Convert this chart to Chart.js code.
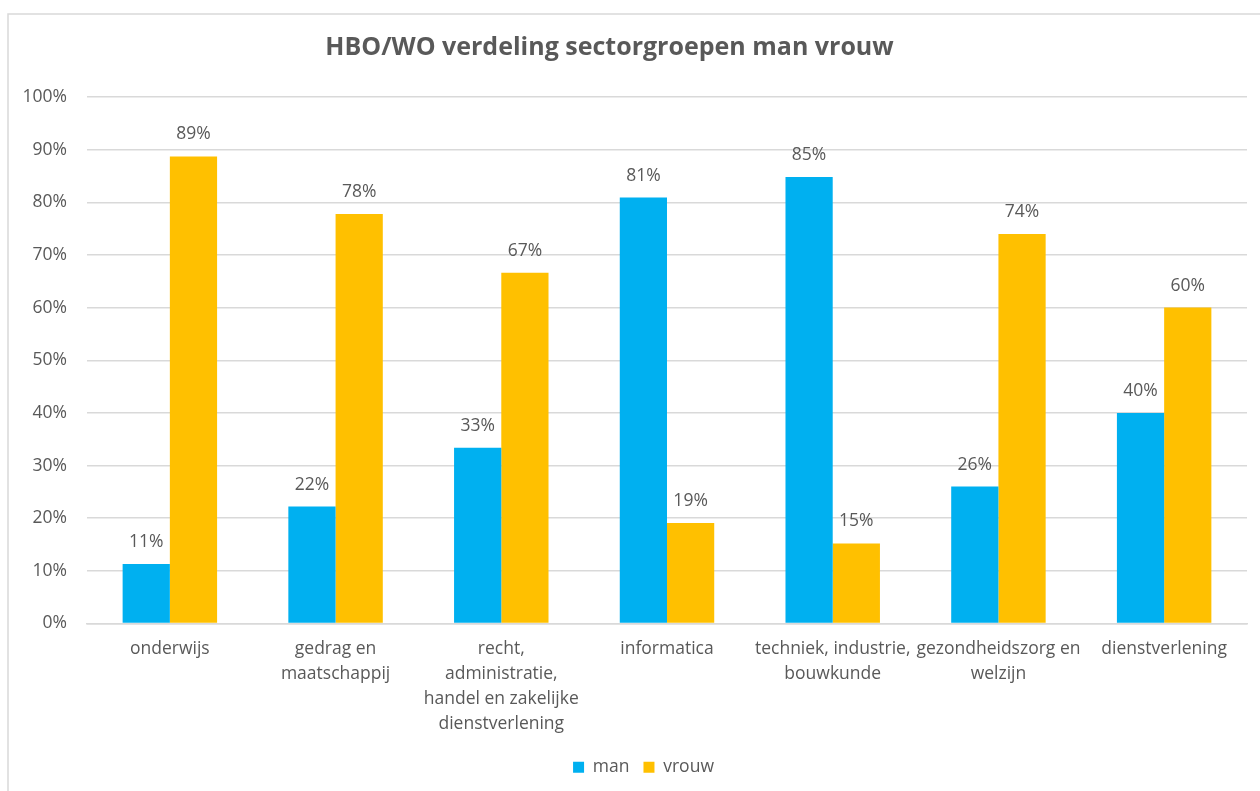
<!DOCTYPE html>
<html>
<head>
<meta charset="utf-8">
<script src="https://cdn.jsdelivr.net/npm/chart.js@4.4.1/dist/chart.umd.min.js"></script>
<style>
html,body{margin:0;padding:0;background:#fff;overflow:hidden;}
#wrap{position:absolute;left:0;top:0;width:1260px;height:791px;}
</style>
</head>
<body>
<div id="wrap"><canvas id="c" width="1260" height="791"></canvas></div>
<script>
const categories = [
  ["onderwijs"],
  ["gedrag en", "maatschappij"],
  ["recht,", "administratie,", "handel en zakelijke", "dienstverlening"],
  ["informatica"],
  ["techniek, industrie,", "bouwkunde"],
  ["gezondheidszorg en", "welzijn"],
  ["dienstverlening"]
];
const manValues   = [11.3, 22.2, 33.4, 80.9, 84.8, 26.0, 40.0];
const vrouwValues = [88.7, 77.8, 66.6, 19.1, 15.2, 74.0, 60.0];
const seriesNames = ["man", "vrouw"];
const titleText = "HBO/WO verdeling sectorgroepen man vrouw";

const FONT = "'Open Sans', 'Noto Sans', sans-serif";
const GREY = "#595959";
const FS = 17.5;

const frame = {
  id: 'frame',
  beforeDraw(chart) {
    const ctx = chart.ctx;
    ctx.save();
    ctx.strokeStyle = '#d9d9d9';
    ctx.lineWidth = 1.5;
    ctx.beginPath();
    ctx.moveTo(8, chart.height + 5);
    ctx.lineTo(8, 14);
    ctx.lineTo(chart.width + 5, 14);
    ctx.stroke();
    ctx.restore();
  }
};

const shiftBoxes = {
  id: 'shiftBoxes',
  afterLayout(chart) {
    if (chart.titleBlock) { chart.titleBlock.left -= 14; chart.titleBlock.right -= 14; }
    if (chart.legend) { chart.legend.left += 20; chart.legend.right += 20; }
  }
};

const valueLabels = {
  id: 'valueLabels',
  afterDatasetsDraw(chart) {
    const ctx = chart.ctx;
    ctx.save();
    ctx.font = FS + "px " + FONT;
    ctx.fillStyle = GREY;
    ctx.textAlign = 'center';
    ctx.textBaseline = 'middle';
    chart.data.datasets.forEach((ds, i) => {
      const meta = chart.getDatasetMeta(i);
      meta.data.forEach((bar, j) => {
        ctx.fillText(Math.round(ds.data[j]) + '%', bar.x, bar.y - 22);
      });
    });
    ctx.restore();
  }
};

new Chart(document.getElementById('c'), {
  type: 'bar',
  data: {
    labels: categories,
    datasets: [
      { label: seriesNames[0], data: manValues, backgroundColor: '#00B0F0' },
      { label: seriesNames[1], data: vrouwValues, backgroundColor: '#FFC000' }
    ]
  },
  options: {
    responsive: false,
    animation: false,
    devicePixelRatio: 1,
    layout: { padding: { left: 0, right: 13, top: 0, bottom: 5 } },
    datasets: { bar: { categoryPercentage: 0.57, barPercentage: 1.0 } },
    plugins: {
      title: {
        display: true,
        text: titleText,
        color: GREY,
        font: { family: FONT, size: 25, weight: 'bold', lineHeight: 1.2 },
        padding: { top: 33, bottom: 34 }
      },
      legend: {
        position: 'bottom',
        labels: {
          color: GREY,
          font: { family: FONT, size: FS },
          boxWidth: 11,
          boxHeight: 11,
          padding: 14
        }
      },
      tooltip: { enabled: false }
    },
    scales: {
      x: {
        afterFit(scale) { scale.height = 121; },
        grid: { display: false, drawTicks: false },
        border: { color: '#d9d9d9', width: 1.5 },
        ticks: {
          color: GREY,
          font: { family: FONT, size: FS, lineHeight: 25 / FS },
          padding: 13,
          maxRotation: 0,
          autoSkip: false
        }
      },
      y: {
        min: 0,
        max: 100,
        afterFit(scale) { scale.width = 87; },
        grid: { color: '#d9d9d9', lineWidth: 1.5, drawTicks: false },
        border: { display: false },
        ticks: {
          stepSize: 10,
          color: GREY,
          font: { family: FONT, size: FS },
          padding: 20,
          callback: v => v + '%'
        }
      }
    }
  },
  plugins: [frame, shiftBoxes, valueLabels]
});
</script>
</body>
</html>
